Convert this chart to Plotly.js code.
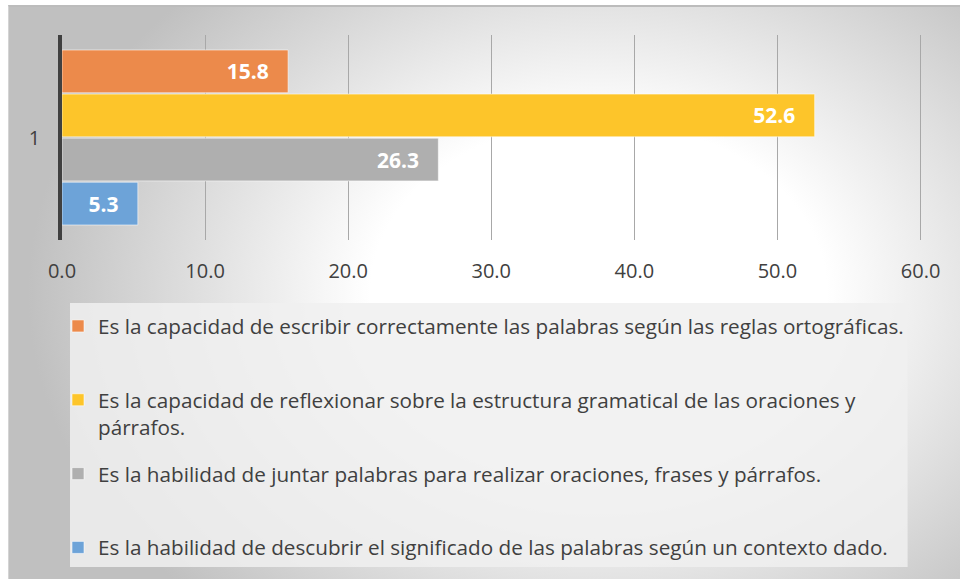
<!DOCTYPE html>
<html><head><meta charset="utf-8">
<script src="https://cdn.plot.ly/plotly-3.0.1.min.js"></script>
<style>
html,body{margin:0;padding:0;background:#fff;}
#wrap{position:relative;width:960px;height:579px;overflow:hidden;}
#bg{position:absolute;left:8px;top:5px;width:952px;height:574px;box-sizing:border-box;
 background:radial-gradient(ellipse 60% 75% at 62% 50%, #ffffff 40%, #c0c0c0 100%);
 border-top:2px solid #bcbcbc;border-left:1px solid #d4d4d4;}
#chart{position:absolute;left:0;top:0;width:960px;height:579px;}
</style></head>
<body><div id="wrap"><div id="bg"></div><div id="chart"></div></div>
<script>
// ---- data ----
const categories = ['1'];
const seriesNames = [
  'Es la capacidad de escribir correctamente las palabras según las reglas ortográficas.',
  'Es la capacidad de reflexionar sobre la estructura gramatical de las oraciones y<br>párrafos.',
  'Es la habilidad de juntar palabras para realizar oraciones, frases y párrafos.',
  'Es la habilidad de descubrir el significado de las palabras según un contexto dado.'
];
const seriesValues = [15.8, 52.6, 26.3, 5.3];
const xTickValues = [0, 10, 20, 30, 40, 50, 60];
const xTickLabels = ['0.0', '10.0', '20.0', '30.0', '40.0', '50.0', '60.0'];

// ---- styles ----
const colors = ['#EC8A4B', '#FDC52A', '#AFAFAF', '#6DA3D8'];
const FONT = 'Open Sans, Liberation Sans, sans-serif';

// pixel helpers for decoration placement (plot area: x 62..922, y 35..240)
const L = 62, T = 35, B = 240, PW = 860.4;
const xRange = [0, 60.1];
const px2x = p => (p - L) / PW;
const px2y = p => (B - p) / (B - T);

const last = seriesNames.length - 1;
const traces = seriesNames.map((name, i) => ({
  type: 'bar',
  orientation: 'h',
  // pad one-line entries to two lines so that all entries are evenly spaced
  name: (name.indexOf('<br>') >= 0 || i === last) ? name : name + '<br> ',
  legendgroup: 'g' + i,
  y: categories,
  x: [seriesValues[i]],
  marker: {color: colors[i], line: {color: 'rgba(255,255,255,0.55)', width: 1}},
  texttemplate: '%{x:.1f}\u00a0\u00a0\u00a0',
  textposition: 'inside',
  insidetextanchor: 'end',
  textangle: 0,
  constraintext: 'none',
  textfont: {family: FONT, size: 21, color: '#ffffff', weight: 'bold'},
  hoverinfo: 'skip'
}));

const layout = {
  width: 960, height: 579,
  margin: {l: L, r: 960 - L - PW, t: T, b: 579 - B, pad: 0, autoexpand: false},
  paper_bgcolor: 'rgba(0,0,0,0)',
  plot_bgcolor: 'rgba(0,0,0,0)',
  barmode: 'group',
  bargap: 0.14,
  bargroupgap: 0.03,
  hovermode: false,
  font: {family: FONT, color: '#404040'},
  xaxis: {
    range: xRange, tickvals: xTickValues, ticktext: xTickLabels,
    showgrid: true, gridcolor: '#a8a8a8', gridwidth: 1,
    zeroline: false, showline: false, ticks: '', tickangle: 0,
    tickfont: {family: FONT, size: 20, color: '#404040'},
    ticklabelstandoff: 17, fixedrange: true, automargin: false
  },
  yaxis: {
    type: 'category', autorange: 'reversed',
    showgrid: false, zeroline: false,
    showline: true, linecolor: '#404040', linewidth: 3.5,
    ticks: '', tickfont: {family: FONT, size: 20, color: '#404040'},
    ticklabelstandoff: 14, fixedrange: true, automargin: false
  },
  showlegend: true,
  legend: {
    xref: 'container', yref: 'container',
    x: 58 / 960, y: 1 - 306 / 579, xanchor: 'left', yanchor: 'top',
    bgcolor: 'rgba(0,0,0,0)', borderwidth: 0,
    font: {family: FONT, size: 20.7, color: '#404040'},
    valign: 'top', traceorder: 'grouped', tracegroupgap: 17,
    maxheight: 1000,
    itemclick: false, itemdoubleclick: false
  },
  shapes: [{
    type: 'rect', xref: 'paper', yref: 'paper', layer: 'below',
    x0: px2x(70), x1: px2x(908), y0: px2y(303), y1: px2y(567),
    fillcolor: 'rgba(240,240,240,0.85)', line: {width: 0}
  }]
};

Plotly.newPlot('chart', traces, layout, {displayModeBar: false});
</script>
</body></html>
